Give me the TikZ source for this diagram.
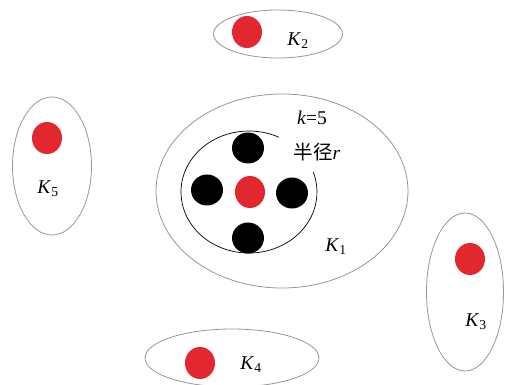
\documentclass[tikz,border=0pt]{standalone}
\usepackage{fontspec}
\setmainfont{Liberation Serif}
\newfontfamily\cjk{Noto Sans CJK SC}
\usetikzlibrary{shapes.geometric}
\definecolor{dotred}{RGB}{226,40,46}
\definecolor{rimgray}{RGB}{150,150,150}
\tikzset{
  cluster/.style={ellipse, draw=rimgray, line width=0.8pt, inner sep=0pt},
  reddot/.style={ellipse, fill=dotred, inner sep=0pt, minimum width=30pt, minimum height=32pt},
  blackdot/.style={ellipse, fill=black, inner sep=0pt, minimum width=32pt, minimum height=31pt},
  lab/.style={inner sep=0pt, font=\fontsize{19.5}{22}\selectfont}
}
\begin{document}
\begin{tikzpicture}[x=1pt,y=-1pt]
\useasboundingbox (0,0) rectangle (509,385);
% clusters
\node[cluster, minimum width=252pt, minimum height=194pt] (k1) at (282,191) {};
\node[cluster, minimum width=129pt, minimum height=48pt] (k2) at (278,34) {};
\node[cluster, minimum width=77pt, minimum height=158pt] (k3) at (465,292) {};
\node[cluster, minimum width=174pt, minimum height=58pt] (k4) at (232,358) {};
\node[cluster, minimum width=79pt, minimum height=138pt] (k5) at (52,166) {};
% radius arc
\coordinate (arcstart) at (278.8,137.2);
\draw[line width=0.7pt] (arcstart) arc[start angle=-64, end angle=-379, x radius=68, y radius=61];
% dots in K1
\node[reddot] (c) at (250,192) {};
\node[blackdot] (n) at (248,148) {};
\node[blackdot] (w) at (207,190) {};
\node[blackdot] (e) at (292,193) {};
\node[blackdot] (s) at (248,238) {};
% other red dots
\node[reddot] (d2) at (247,32) {};
\node[reddot] (d3) at (470,259) {};
\node[reddot] (d4) at (200,363) {};
\node[reddot] (d5) at (47,138) {};
% labels
\node[lab] (tk) at (312,118) {\textit{k}=5};
\node[lab] (tr) at (317,152) {{\cjk 半径}\textit{r}};
\node[lab] (l1) at (336,247) {\textit{K}\textsubscript{1}};
\node[lab] (l2) at (298,41) {\textit{K}\textsubscript{2}};
\node[lab] (l3) at (476,322) {\textit{K}\textsubscript{3}};
\node[lab] (l4) at (251,365) {\textit{K}\textsubscript{4}};
\node[lab] (l5) at (48,189) {\textit{K}\textsubscript{5}};
\end{tikzpicture}
\end{document}
